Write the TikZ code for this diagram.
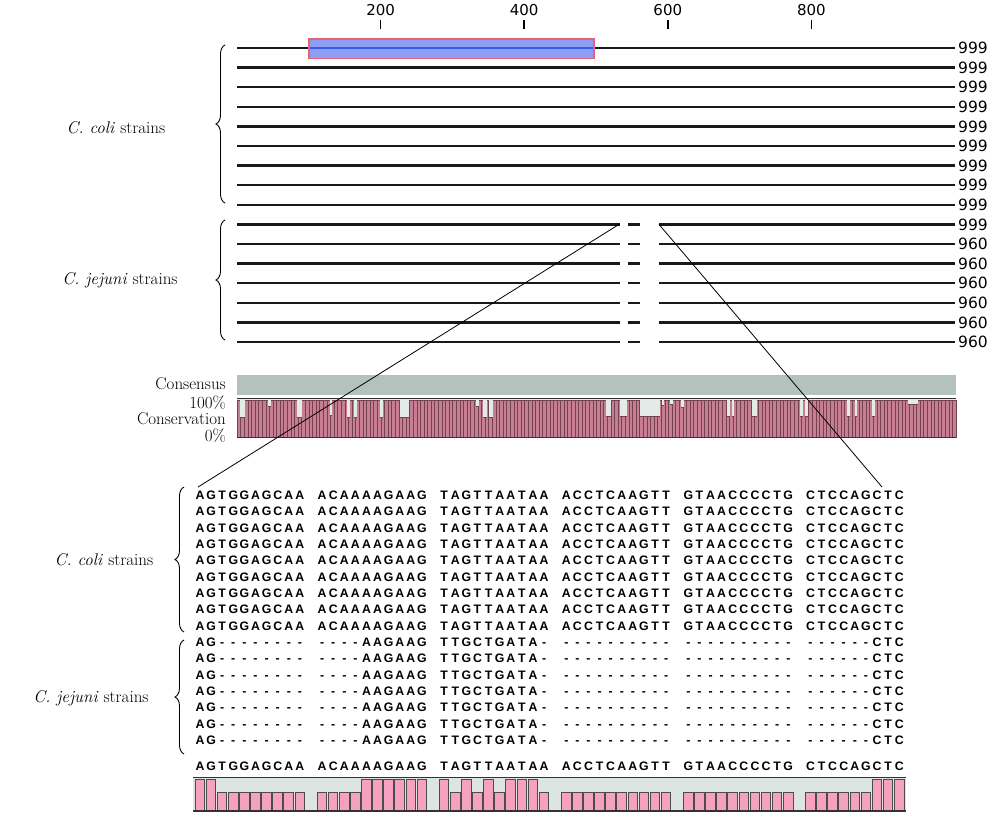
\documentclass[tikz,border=0pt]{standalone}
\usepackage{fontspec}
\newfontfamily\seqfont{Liberation Sans}
\newfontfamily\numfont{DejaVu Sans}
\usetikzlibrary{decorations.pathreplacing}

\definecolor{consgray}{HTML}{B4C2BE}
\definecolor{consbg}{HTML}{E3EBE8}
\definecolor{barmauve}{HTML}{C77D94}
\definecolor{barline}{HTML}{74434F}
\definecolor{barpink}{HTML}{F7A1C1}
\definecolor{lowbg}{HTML}{DDE5E2}
\definecolor{boxblue}{HTML}{8F9EF5}
\definecolor{boxred}{HTML}{E8607A}
\definecolor{midblue}{HTML}{3A5AE8}

% one aligned sequence row, 10 letters per block (spaces are skipped)
\newcount\seqno
\def\seqline#1{\seqno=0 \seqcell#1\relax}
\def\seqcell#1{\ifx#1\relax\else
  \makebox[11.1pt]{#1}%
  \advance\seqno by 1
  \ifnum\seqno=10 \hspace*{11.1pt}\seqno=0 \fi
  \expandafter\seqcell\fi}

\begin{document}
\begin{tikzpicture}[%
            x=1pt,
            y=-1pt,
            ]
    \tikzset{strand/.style = {line width=2.3pt, color=black!90}}
    \tikzset{lenlbl/.style = {anchor=west, inner sep=0pt, font=\numfont\fontsize{15.5}{15.5}\selectfont}}
    \tikzset{ticklbl/.style = {inner sep=0pt, font=\numfont\fontsize{15}{15}\selectfont}}
    \tikzset{grplbl/.style = {inner sep=0pt, font=\fontsize{17}{17}\selectfont}}
    \tikzset{brc/.style = {decorate, decoration={brace, amplitude=9pt}, line width=0.9pt}}
    \tikzset{seqrow/.style = {anchor=west, inner sep=0pt, text height=8.6pt, text depth=0pt,
             font=\seqfont\bfseries\fontsize{12.3}{12.3}\selectfont}}
    \tikzset{zoomln/.style = {line width=0.8pt, black}}

    \useasboundingbox (0,0) rectangle (1000,828);

    % Ruler
    \foreach \p in {200,400,600,800} {
        \draw[line width=1.5pt] ({237+0.718*\p},20) -- ({237+0.718*\p},29);
        \node[ticklbl] (tick\p) at ({237+0.718*\p},10) {\p};
    }

    % C. coli strands
    \foreach \i in {0,...,8} {
        \pgfmathsetmacro\yy{48+19.6*\i}
        \draw[strand] (237,\yy) -- (955,\yy);
        \node[lenlbl] (len\i) at (958,\yy) {999};
    }

    % Domain box
    \draw[fill=boxblue, draw=boxred, line width=1.2pt] (309,39) rectangle (594,58.5);
    \draw[midblue, line width=1.6pt] (310,48) -- (593,48);

    % C. jejuni strands (with gap)
    \foreach \i/\len in {9/999,10/960,11/960,12/960,13/960,14/960,15/960} {
        \pgfmathsetmacro\yy{48+19.6*\i}
        \draw[strand] (237,\yy) -- (620,\yy);
        \draw[strand] (628,\yy) -- (640,\yy);
        \draw[strand] (659,\yy) -- (955,\yy);
        \node[lenlbl] (len\i) at (958,\yy) {\len};
    }

    % Group labels & braces (top)
    \draw[brc] (225,203) -- (225,45);
    \draw[brc] (225,340) -- (225,220);
    \node[grplbl] (coliT) at (116,128) {\textit{C. coli} strains};
    \node[grplbl] (jejT) at (120,280) {\textit{C. jejuni} strains};

    % Consensus & Conservation
    \fill[consgray] (237,375) rectangle (956,395);
    \fill[consbg] (237,398) rectangle (956,438);
    \foreach \i in {0,...,199}
        \draw[fill=barmauve, draw=barline, line width=0.5pt] ({237+3.595*\i},400) rectangle ({240.595+3.595*\i},437);
    \foreach \a/\b/\t in {240/245/417,268/271/406,297/302/417,330/332/415,347/350/417,354/357/417,
                          380/383/417,400/409/417,476/479/406,483/487/417,489/493/417,606/611/416,
                          620/627/416,640/660/416,662/664/405,670/673/404,681/684/407,727/730/416,
                          732/734/416,752/757/416,800/803/416,805/808/416,847/850/416,855/857/416,
                          872/875/416,908/918/404} {
        \fill[consbg] (\a,399.6) rectangle (\b,\t);
        \draw[barline, line width=0.8pt] (\a,\t) -- (\b,\t);
    }
    \draw[black!80, line width=1pt] (237,398) -- (956,398);
    \draw[black!80, line width=1.2pt] (237,437.5) -- (956,437.5);
    \node[grplbl, anchor=east] (consL) at (226,384) {Consensus};
    \node[grplbl, anchor=east] (fullL) at (226,403) {100\%};
    \node[grplbl, anchor=east] (conL) at (226,419) {Conservation};
    \node[grplbl, anchor=east] (zeroL) at (226,436) {0\%};

    % Zoom lines
    \coordinate (gapL) at (619,224.4);
    \coordinate (gapR) at (659,224.4);
    \coordinate (seqL) at (198,487);
    \coordinate (seqR) at (882,487);
    \draw[zoomln] (gapL) -- (seqL);
    \draw[zoomln] (gapR) -- (seqR);

    % Alignment rows
    \foreach \r in {0,...,8}
        \node[seqrow] (cc\r) at (194.25,{495+16.35*\r})
            {\seqline{AGTGGAGCAA ACAAAAGAAG TAGTTAATAA ACCTCAAGTT GTAACCCCTG CTCCAGCTC}};
    \foreach \r in {9,...,15}
        \node[seqrow] (cj\r) at (194.25,{495+16.35*\r})
            {\seqline{AG-------- ----AAGAAG TTGCTGATA- ---------- ---------- ------CTC}};
    \node[seqrow] (cons) at (194.25,766)
        {\seqline{AGTGGAGCAA ACAAAAGAAG TAGTTAATAA ACCTCAAGTT GTAACCCCTG CTCCAGCTC}};

    % Group labels & braces (bottom)
    \draw[brc] (184,632) -- (184,487);
    \draw[brc] (184,754) -- (184,640);
    \node[grplbl] (coliB) at (104,560) {\textit{C. coli} strains};
    \node[grplbl] (jejB) at (91,698) {\textit{C. jejuni} strains};

    % Column conservation
    \fill[lowbg] (193,778) rectangle (906,811);
    \foreach \h [count=\k from 0] in {1,1,0,0,0,0,0,0,0,0, 0,0,0,0,1,1,1,1,1,1,
                                      1,0,1,0,1,0,1,1,1,0, 0,0,0,0,0,0,0,0,0,0,
                                      0,0,0,0,0,0,0,0,0,0, 0,0,0,0,0,0,1,1,1} {
        \pgfmathsetmacro\cx{199.8+11.1*(\k+int(\k/10))}
        \pgfmathsetmacro\ct{\h>0 ? 779 : 792}
        \draw[fill=barpink, draw=black!70, line width=0.7pt] (\cx-4.8,\ct) rectangle (\cx+4.8,811);
    }
    \draw[black!80, line width=1.2pt] (193,777.5) -- (906,777.5);
    \draw[black!80, line width=1.2pt] (193,811) -- (906,811);

\end{tikzpicture}
\end{document}
